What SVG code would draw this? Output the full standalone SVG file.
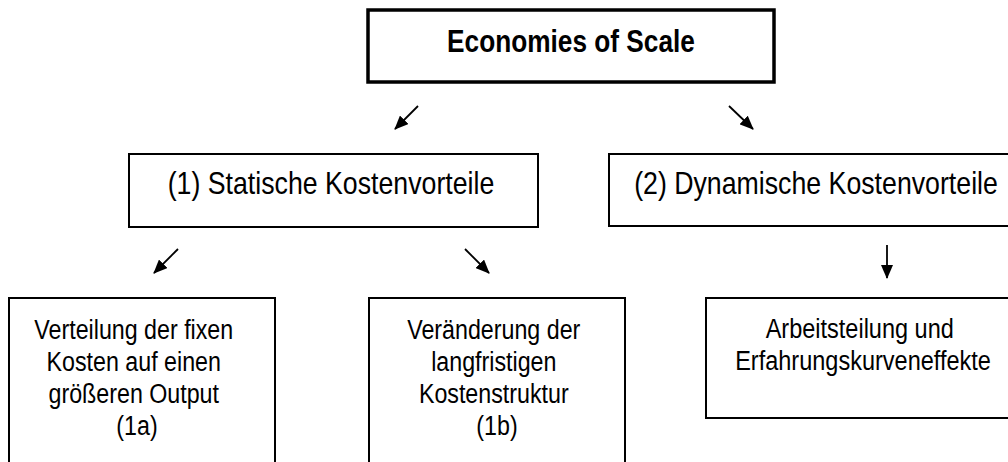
<svg xmlns="http://www.w3.org/2000/svg" width="1008" height="462" viewBox="0 0 1008 462">
  <style>
    .box { fill: #fff; stroke: #000; stroke-width: 2; }
    .top { stroke-width: 3.5; }
    .t { font-family: "Liberation Sans", Arial, sans-serif; font-size: 32px; fill: #000; text-anchor: middle; }
    .s { font-size: 28px; }
    .b { font-weight: bold; }
    .c { stroke: #000; stroke-width: 1.8; fill: none; marker-end: url(#ah); }
  </style>
  <defs>
    <marker id="ah" markerUnits="userSpaceOnUse" markerWidth="14" markerHeight="12" refX="13" refY="6" orient="auto">
      <path d="M0,0 L14,6 L0,12 z" fill="#000"/>
    </marker>
  </defs>
  <rect width="1008" height="462" fill="#fff"/>

  <g id="node-economies">
    <rect class="box top" x="368" y="10" width="406" height="72"/>
    <text class="t b" transform="translate(571,52) scale(0.82,1)">Economies of Scale</text>
  </g>

  <g id="node-statisch">
    <rect class="box" x="129" y="154" width="409" height="73"/>
    <text class="t" transform="translate(331,194) scale(0.835,1)">(1) Statische Kostenvorteile</text>
  </g>

  <g id="node-dynamisch">
    <rect class="box" x="609" y="154" width="418" height="72"/>
    <text class="t" transform="translate(816,194) scale(0.835,1)">(2) Dynamische Kostenvorteile</text>
  </g>

  <g id="node-1a">
    <rect class="box" x="9" y="298" width="266" height="180"/>
    <text class="t s" transform="translate(137,339) scale(0.83,1)">
      <tspan x="0" y="0">Verteilung der fixen</tspan>
      <tspan x="0" y="32">Kosten auf einen</tspan>
      <tspan x="0" y="64">größeren Output</tspan>
      <tspan x="0" y="96">(1a)</tspan>
    </text>
  </g>

  <g id="node-1b">
    <rect class="box" x="369" y="298" width="256" height="180"/>
    <text class="t s" transform="translate(497,339) scale(0.83,1)">
      <tspan x="0" y="0">Veränderung der</tspan>
      <tspan x="0" y="32">langfristigen</tspan>
      <tspan x="0" y="64">Kostenstruktur</tspan>
      <tspan x="0" y="96">(1b)</tspan>
    </text>
  </g>

  <g id="node-arbeitsteilung">
    <rect class="box" x="706" y="298" width="314" height="120"/>
    <text class="t s" transform="translate(863,338) scale(0.84,1)">
      <tspan x="0" y="0">Arbeitsteilung und</tspan>
      <tspan x="0" y="32">Erfahrungskurveneffekte</tspan>
    </text>
  </g>

  <g id="connectors">
    <line class="c" x1="418" y1="106" x2="395" y2="129"/>
    <line class="c" x1="729" y1="106" x2="753" y2="129"/>
    <line class="c" x1="178" y1="249" x2="154" y2="273"/>
    <line class="c" x1="465" y1="249" x2="489" y2="273"/>
    <line class="c" x1="887" y1="245" x2="887" y2="278"/>
  </g>
</svg>
